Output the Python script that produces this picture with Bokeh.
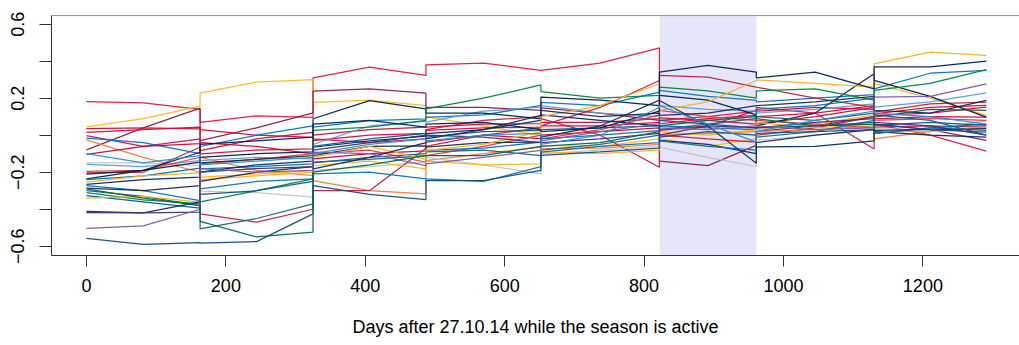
from bokeh.plotting import figure
from bokeh.models import BoxAnnotation, Span, FixedTicker, Range1d
from bokeh.embed import file_html
from bokeh.resources import INLINE

# ---- data -------------------------------------------------------------
season_bounds = [0, 163, 325, 487, 652, 822, 961, 1130, 1291]
highlight_start = 822.5
highlight_end = 961
x_ticks = [0, 200, 400, 600, 800, 1000, 1200]
y_ticks = [-0.6, -0.4, -0.2, 0, 0.2, 0.4, 0.6]
y_tick_labels = ["−0.6", "", "−0.2", "", "0.2", "", "0.6"]
x_title = "Days after 27.10.14 while the season is active"

# each team: (start, mid, end) per season, 8 seasons
red1 = [0.182, 0.175, 0.14, 0.070, 0.105, 0.097, 0.310, 0.368, 0.323, 0.38, 0.39, 0.35,
        0.35, 0.39, 0.472, 0.08, 0.10, 0.13, 0.15, 0.12, -0.074, 0.06, 0.0, -0.086]
yel1 = [0.045, 0.09, 0.157, 0.227, 0.287, 0.301, 0.178, 0.19, 0.160, 0.10, 0.05, -0.001,
        -0.055, -0.06, -0.02, -0.02, -0.06, -0.02, 0.03, 0.06, 0.11, 0.28, 0.20, 0.107]
mar1 = [-0.079, 0.04, 0.146, -0.029, 0.04, 0.121, 0.238, 0.250, 0.227, 0.15, 0.15, 0.134,
        0.148, 0.12, 0.08, -0.14, -0.164, -0.055, 0.02, 0.05, 0.10, 0.06, 0.03, -0.028]
red2 = [0.036, 0.04, 0.034, -0.083, -0.02, 0.016, 0.0, 0.03, 0.044, 0.044, 0.06, 0.062,
        0.07, 0.07, 0.09, 0.094, 0.08, 0.06, 0.06, 0.10, 0.15, 0.116, 0.15, 0.161]
red3 = [0.016, 0.03, 0.044, 0.030, 0.00, -0.011, -0.029, 0.0, 0.01, 0.026, 0.04, 0.044,
        0.05, 0.05, 0.07, 0.062, 0.09, 0.107, 0.10, 0.12, 0.16, 0.107, 0.12, 0.152]
red4 = [-0.002, -0.06, -0.02, -0.101, -0.08, -0.074, -0.02, -0.04, -0.02, 0.03, 0.08, 0.10,
        0.09, 0.0, -0.173, 0.0, -0.02, -0.037, 0.0, 0.04, 0.10, 0.044, 0.05, 0.044]
blu1 = [-0.016, -0.04, -0.10, -0.061, 0.0, 0.05, 0.044, 0.079, 0.089, 0.097, 0.11, 0.161,
        0.178, 0.16, 0.233, 0.242, 0.21, 0.188, 0.18, 0.20, 0.22, 0.25, 0.335, 0.35]
org1 = [-0.025, -0.12, -0.20, -0.119, -0.19, -0.218, -0.245, -0.299, -0.317, -0.137, -0.10, -0.064,
        -0.073, -0.07, -0.05, 0.0, 0.01, 0.02, 0.02, 0.03, 0.05, -0.02, 0.02, 0.08]
red5 = [-0.103, -0.06, -0.046, -0.04, -0.06, -0.101, -0.128, -0.10, -0.085, -0.037, 0.0, -0.019,
        0.0, 0.02, 0.04, 0.026, 0.05, 0.134, 0.13, 0.15, 0.14, 0.089, 0.10, 0.098]
gry1 = [-0.149, -0.15, -0.164, -0.302, -0.31, -0.335, -0.19, -0.17, -0.146, -0.12, -0.16, -0.209,
        -0.101, -0.08, -0.06, -0.064, -0.12, -0.169, -0.028, 0.0, 0.03, 0.035, 0.03, 0.08]
lbl1 = [-0.157, -0.17, -0.137, -0.137, -0.12, -0.128, -0.05, 0.05, 0.075, 0.071, 0.13, 0.152,
        0.16, 0.12, 0.10, 0.16, 0.14, 0.13, 0.12, 0.14, 0.17, 0.152, 0.18, 0.229]
red6 = [-0.196, -0.19, -0.119, -0.155, -0.13, -0.10, -0.10, -0.08, -0.146, -0.11, -0.06, 0.0,
        -0.02, 0.03, 0.11, 0.134, 0.10, 0.08, 0.08, 0.06, 0.04, 0.08, 0.09, 0.08]
red7 = [-0.203, -0.20, -0.065, -0.425, -0.47, -0.40, -0.299, -0.30, -0.07, -0.06, 0.0, 0.04,
        0.05, 0.15, 0.296, 0.323, 0.314, 0.26, 0.26, 0.20, 0.15, 0.125, 0.17, 0.179]
nav1 = [-0.236, -0.19, -0.146, -0.12, -0.10, -0.09, 0.089, 0.187, 0.143, 0.119, 0.12, 0.089,
        0.206, 0.19, 0.16, 0.215, 0.19, 0.11, 0.05, 0.12, 0.332, 0.296, 0.21, 0.098]
blu2 = [-0.24, -0.22, -0.178, -0.182, -0.17, -0.155, -0.146, -0.13, -0.11, -0.082, -0.07, -0.037,
        -0.02, 0.0, 0.025, 0.05, 0.04, 0.03, 0.14, 0.16, 0.20, 0.01, 0.04, 0.06]
yel2 = [-0.254, -0.22, -0.203, -0.227, -0.21, -0.191, -0.164, -0.14, -0.182, -0.14, -0.16, -0.155,
        -0.09, -0.10, -0.08, 0.02, 0.0, 0.03, 0.07, 0.04, 0.06, 0.02, 0.02, 0.04]
nav2 = [-0.265, -0.24, -0.227, -0.20, -0.16, -0.14, -0.065, -0.03, -0.005, 0.008, 0.03, 0.08,
        0.11, 0.08, 0.05, -0.028, -0.05, -0.10, -0.064, -0.06, -0.03, 0.02, 0.0, -0.01]
blu3 = [-0.272, -0.30, -0.353, -0.290, -0.25, -0.236, -0.209, -0.20, -0.236, -0.236, -0.25, -0.17,
        -0.091, -0.06, -0.04, -0.03, -0.06, -0.08, -0.01, 0.02, 0.08, 0.008, 0.04, 0.026]
nav3 = [-0.286, -0.30, -0.272, -0.15, -0.13, -0.11, -0.11, -0.06, -0.058, -0.064, -0.04, -0.037,
        -0.01, 0.05, 0.19, 0.188, 0.05, -0.151, -0.04, 0.0, 0.03, 0.026, 0.03, 0.035]
tea1 = [-0.30, -0.33, -0.38, -0.506, -0.45, -0.371, -0.15, -0.12, -0.10, -0.09, -0.08, -0.11,
        -0.08, -0.05, 0.0, 0.03, 0.06, 0.09, 0.10, 0.08, 0.12, 0.11, 0.08, 0.0]
grn1 = [-0.31, -0.35, -0.37, -0.36, -0.30, -0.236, 0.026, 0.044, 0.08, 0.142, 0.20, 0.272,
        0.236, 0.20, 0.215, 0.26, 0.24, 0.20, 0.24, 0.25, 0.19, 0.242, 0.28, 0.355]
tea2 = [-0.326, -0.36, -0.394, -0.32, -0.30, -0.25, -0.06, -0.02, 0.01, -0.01, 0.02, 0.026,
        0.03, 0.04, 0.05, 0.08, 0.06, 0.04, 0.04, 0.05, 0.07, 0.053, 0.07, 0.053]
yel3 = [-0.34, -0.33, -0.362, -0.24, -0.22, -0.20, -0.12, -0.06, -0.13, -0.082, -0.05, 0.02,
        0.10, 0.16, 0.278, 0.134, 0.18, 0.296, 0.299, 0.28, 0.26, 0.386, 0.449, 0.431]
nav4 = [-0.412, -0.42, -0.36, -0.25, -0.20, -0.17, -0.182, -0.12, -0.04, -0.02, 0.03, 0.107,
        0.134, 0.10, 0.12, 0.107, 0.12, 0.16, 0.16, 0.18, 0.21, 0.134, 0.12, 0.188]
pur1 = [-0.418, -0.42, -0.416, -0.20, -0.18, -0.17, -0.08, -0.04, 0.0, 0.0, -0.01, -0.04,
        -0.04, -0.02, 0.01, 0.0, 0.05, 0.04, 0.04, 0.07, 0.09, 0.07, 0.05, 0.0]
pur2 = [-0.503, -0.49, -0.40, -0.18, -0.20, -0.19, -0.092, -0.10, -0.164, -0.155, -0.12, -0.082,
        -0.03, 0.02, 0.062, 0.04, 0.03, 0.05, 0.05, 0.03, 0.04, 0.206, 0.21, 0.278]
tea3 = [-0.557, -0.59, -0.58, -0.583, -0.575, -0.425, -0.272, -0.32, -0.348, -0.245, -0.245, -0.19,
        -0.109, -0.09, -0.07, -0.01, 0.02, 0.0, 0.01, 0.02, 0.03, 0.06, 0.03, 0.017]
grn2 = [-0.29, -0.34, -0.38, -0.466, -0.55, -0.524, -0.20, -0.16, -0.11, -0.11, -0.11, -0.06,
        -0.06, -0.04, 0.02, 0.05, 0.08, 0.10, 0.09, 0.05, 0.06, 0.098, 0.14, 0.134]
nav5 = [-0.21, -0.19, -0.092, -0.05, -0.03, -0.01, 0.06, 0.08, 0.044, 0.06, 0.07, 0.03,
        0.02, 0.04, 0.13, 0.341, 0.377, 0.341, 0.310, 0.341, 0.25, 0.37, 0.37, 0.40]
blu4 = [-0.10, -0.15, -0.11, -0.16, -0.14, -0.12, -0.10, -0.05, -0.02, -0.03, 0.0, 0.01,
        -0.05, 0.0, 0.15, 0.16, 0.06, -0.037, 0.02, 0.08, 0.13, 0.12, 0.10, 0.06]

team_series = [red1, yel1, mar1, red2, red3, red4, blu1, org1, red5, gry1, lbl1, red6,
               red7, nav1, blu2, yel2, nav2, blu3, nav3, tea1, grn1, tea2, yel3, nav4,
               pur1, pur2, tea3, grn2, nav5, blu4]
team_colors = ["#E31837", "#FFB81C", "#8C1D40", "#C8102E", "#E4003B", "#CE1141", "#0072CE",
               "#F47A38", "#D50032", "#BFC4C8", "#5B9BD5", "#E03A3E", "#C41E3A", "#041E42",
               "#006BB6", "#FCB514", "#002868", "#0C6EB8", "#1B2A4A", "#1F5F7F", "#00843D",
               "#005A8C", "#F4B223", "#14285A", "#3A2F7A", "#7E57A8", "#0F4C81", "#006847",
               "#00205B", "#2D8CD8"]

# ---- figure -----------------------------------------------------------
p = figure(width=1019, height=345, output_backend="svg", toolbar_location=None,
           x_range=Range1d(-50.2, 1338.6), y_range=Range1d(-0.650, 0.647),
           min_border_left=51, min_border_right=0, min_border_top=15, min_border_bottom=90)
p.outline_line_color = None
p.background_fill_color = "white"
p.border_fill_color = "white"
p.xgrid.visible = False
p.ygrid.visible = False

p.add_layout(BoxAnnotation(left=highlight_start, right=highlight_end,
                           fill_color="#E6E6FA", fill_alpha=1.0, line_color=None,
                           level="underlay"))

# knot days: start / middle / end of each season
days = []
for k in range(len(season_bounds) - 1):
    a, b = season_bounds[k], season_bounds[k + 1]
    days += [a, (a + b) / 2, b]

for vals, col in zip(team_series, team_colors):
    p.line(days, vals, line_color=col, line_width=1.25, line_alpha=0.95)

# top border of the box
p.add_layout(Span(location=0.6468, dimension="width", line_color="#333333", line_width=1))

font = "Liberation Sans"
ax = p.xaxis[0]
ax.ticker = FixedTicker(ticks=x_ticks)
ax.axis_label = x_title
ax.axis_label_text_font = font
ax.axis_label_text_font_size = "18px"
ax.axis_label_text_font_style = "normal"
ax.axis_label_text_color = "black"
ax.axis_label_standoff = 22
ax.major_label_text_font = font
ax.major_label_text_font_size = "18px"
ax.major_label_text_color = "black"
ax.major_label_standoff = 12
ax.major_tick_out = 11
ax.major_tick_in = 0
ax.minor_tick_line_color = None
ax.axis_line_color = "#333333"
ax.major_tick_line_color = "#333333"

ay = p.yaxis[0]
ay.ticker = FixedTicker(ticks=y_ticks)
ay.major_label_overrides = {t: lab for t, lab in zip(y_ticks, y_tick_labels)}
ay.major_label_orientation = "vertical"
ay.major_label_text_font = font
ay.major_label_text_font_size = "18px"
ay.major_label_text_color = "black"
ay.major_label_standoff = 15
ay.major_tick_out = 12
ay.major_tick_in = 0
ay.minor_tick_line_color = None
ay.axis_line_color = "#333333"
ay.major_tick_line_color = "#333333"

open("out.html", "w").write(file_html(p, INLINE))
